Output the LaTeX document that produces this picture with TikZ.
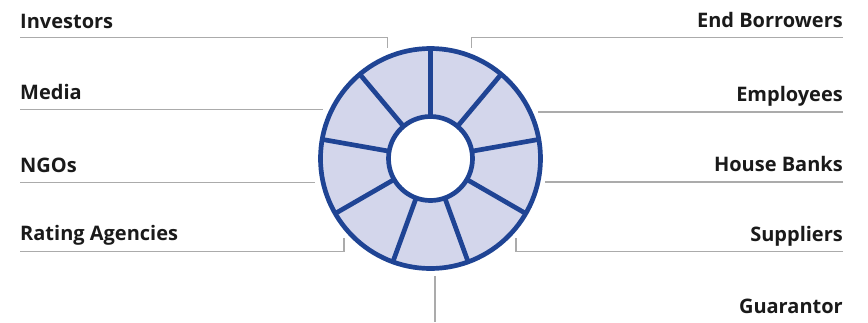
\documentclass[tikz,border=0pt]{standalone}
\usepackage{fontspec}
\setsansfont{Open Sans}
\usetikzlibrary{calc}
\definecolor{ringblue}{HTML}{1F4494}
\definecolor{ringfill}{HTML}{D3D6EB}
\definecolor{leadgray}{HTML}{ABABAB}
\definecolor{labtext}{HTML}{1A1A1A}
\begin{document}
\begin{tikzpicture}[x=1pt,y=-1pt,
  lab/.style={font=\sffamily\bfseries\fontsize{20}{22}\selectfont,text=labtext,inner sep=0pt},
  leader/.style={draw=leadgray,line width=1.4pt},
  rim/.style={draw=ringblue,line width=4.7pt}]
\useasboundingbox (0,0) rectangle (868,322);
% ---- ring ----
\coordinate (hub) at (430.5,158.5);
\fill[ringfill,even odd rule] (hub) circle[radius=110pt] (hub) circle[radius=42pt];
\foreach \a in {90,50,...,-230}
  \draw[rim] ($(hub)+(\a:42pt)$) -- ($(hub)+(\a:110pt)$);
\draw[rim] (hub) circle[radius=110pt] (hub) circle[radius=42pt];
% ---- left labels ----
\node[lab,anchor=base west] (inv) at (20,28) {Investors};
\node[lab,anchor=base west] (media) at (20,99) {Media};
\node[lab,anchor=base west] (ngo) at (20,172.5) {NGOs};
\node[lab,anchor=base west] (rating) at (20,240.5) {Rating Agencies};
\coordinate (inv-in) at (387.5,48);
\coordinate (media-in) at (323,109.5);
\coordinate (ngo-in) at (315,182.5);
\coordinate (rating-in) at (344,238);
\draw[leader] ([yshift=-9.5pt]inv.base west) -| (inv-in);
\draw[leader] (inv.base west |- media-in) -- (media-in);
\draw[leader] (inv.base west |- ngo-in) -- (ngo-in);
\draw[leader] ([yshift=-11pt]rating.base west) -| (rating-in);
% ---- right labels ----
\node[lab,anchor=base east] (endb) at (843,27) {End Borrowers};
\node[lab,anchor=base east] (empl) at (843,101.5) {Employees};
\node[lab,anchor=base east] (house) at (843,171.5) {House Banks};
\node[lab,anchor=base east] (suppl) at (843,241.5) {Suppliers};
\node[lab,anchor=base east] (guar) at (843,313) {Guarantor};
\coordinate (endb-in) at (471.5,48);
\coordinate (empl-in) at (538,112);
\coordinate (house-in) at (545,182);
\coordinate (suppl-in) at (516,238);
\coordinate (guar-in) at (435,276);
\coordinate (guar-out) at (435,322);
\draw[leader] ([yshift=-10.5pt]endb.base east) -| (endb-in);
\draw[leader] (endb.base east |- empl-in) -- (empl-in);
\draw[leader] (endb.base east |- house-in) -- (house-in);
\draw[leader] ([yshift=-10pt]suppl.base east) -| (suppl-in);
\draw[leader] (guar-in) -- (guar-out);
\end{tikzpicture}
\end{document}
